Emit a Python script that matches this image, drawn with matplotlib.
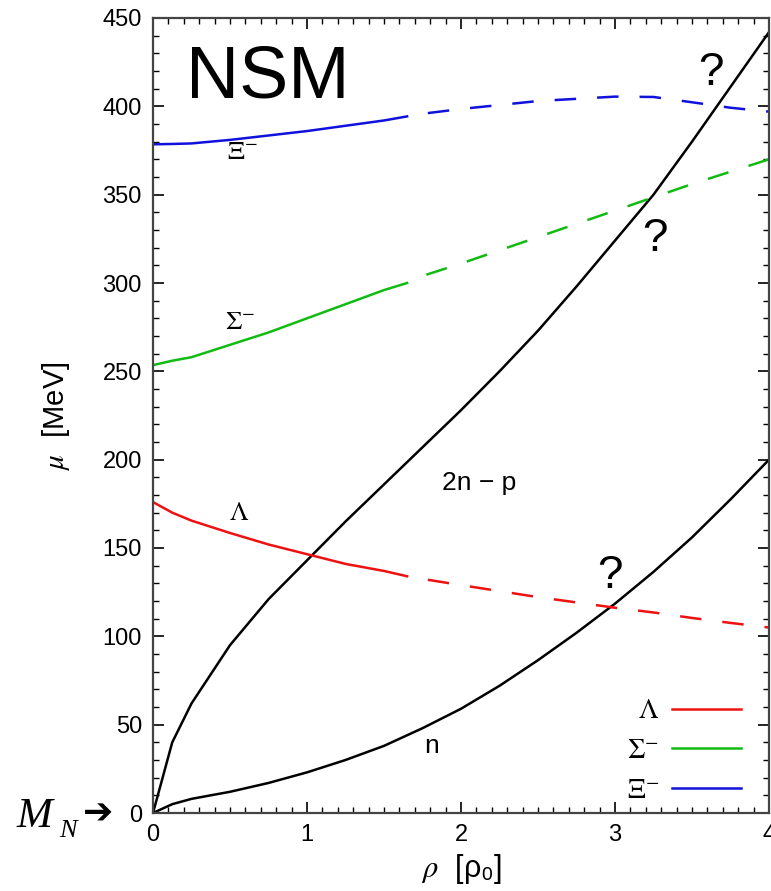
import matplotlib
matplotlib.use("Agg")
import matplotlib.pyplot as plt
import numpy as np

plt.rcParams['mathtext.fontset'] = 'stix'
plt.rcParams['font.family'] = ['Liberation Sans', 'DejaVu Sans']

# ---- data ----
rho_n = [0, 0.125, 0.25, 0.5, 0.75, 1.0, 1.25, 1.5, 1.75, 2.0, 2.25, 2.5, 2.75, 3.0, 3.25, 3.5, 3.75, 4.0]
mu_n = [0, 5, 8, 12, 17, 23, 30, 38, 48, 59, 72, 86.5, 102, 118.5, 136.5, 156, 177.5, 200]
mu_2np = [0, 40, 62, 95, 121, 143, 165, 186, 207, 228, 250, 273, 298, 324, 350, 380, 411, 442]

rho_h = [0, 0.125, 0.25, 0.5, 0.75, 1.0, 1.25, 1.5, 1.65, 1.75, 2.0, 2.5, 3.0, 3.25, 3.5, 3.75, 4.0]
mu_lam = [176, 170, 165.5, 158.5, 152, 146.5, 141, 137, 134, 132.5, 129, 122.2, 116.2, 113.5, 110.4, 107.6, 105]
mu_sig = [253.5, 256, 258, 265, 272, 280, 288, 296, 300, 304, 311, 326, 341, 348.5, 356, 363, 370]
mu_xi = [378.5, 378.7, 379, 381, 383.5, 386, 389, 392, 394.3, 395.8, 398.5, 403, 405.5, 405.3, 402.3, 399.2, 397]
rho_split = 1.65

hyperons = [("$\\Lambda$", mu_lam, "#ee1111"),
            ("$\\Sigma^{-}$", mu_sig, "#11bb11"),
            ("$\\Xi^{-}$", mu_xi, "#1111dd")]

fig = plt.figure(figsize=(7.71, 8.91), dpi=100)
ax = fig.add_axes([153/771, 1-813/891, (769-153)/771, (813-18)/891])

LW = 1.8
ax.plot(rho_n, mu_n, color='black', lw=LW)
ax.plot(rho_n, mu_2np, color='black', lw=LW)

rho_h = np.array(rho_h)
for lab, mu, col in hyperons:
    mu = np.array(mu)
    s = rho_h <= rho_split + 1e-9
    d = rho_h >= rho_split - 1e-9
    ax.plot(rho_h[s], mu[s], color=col, lw=LW, label=lab)
    ax.plot(rho_h[d], mu[d], color=col, lw=LW, linestyle=(8.6, (8.6, 8.4)))

ax.set_xlim(0, 4)
ax.set_ylim(0, 450)
ax.set_xticks([0, 1, 2, 3, 4])
ax.set_yticks(np.arange(0, 451, 50))
ax.set_xticks(np.arange(0, 4.01, 0.1), minor=True)
ax.set_yticks(np.arange(0, 451, 10), minor=True)
ax.tick_params(which='both', direction='in', top=True, right=True, labelsize=17, colors='black')
ax.tick_params(which='major', length=8, width=1.2, pad=8)
ax.tick_params(which='minor', length=4, width=1.0)
for sp in ax.spines.values():
    sp.set_linewidth(1.6)
    sp.set_color('#444444')

# axis labels
ax.set_xlabel("$\\rho$  [\u03c1\u2080]", fontsize=22, labelpad=4)
ax.set_ylabel("$\\mu$  [MeV]", fontsize=21, labelpad=22)

# in-plot annotations
ax.text(0.747, 416, "NSM", fontsize=53, ha='center', va='center')
for (x, y) in [(3.62, 419), (3.26, 325), (2.97, 134)]:
    ax.text(x, y, "?", fontsize=33, ha='center', va='center')
ax.text(0.56, 170, "$\\Lambda$", fontsize=19, ha='center', va='center')
ax.text(0.565, 278, "$\\Sigma^{-}$", fontsize=19, ha='center', va='center')
ax.text(0.58, 374, "$\\Xi^{-}$", fontsize=19, ha='center', va='center')
ax.text(2.12, 187, "2n \u2212 p", fontsize=19, ha='center', va='center')
ax.text(1.81, 38, "n", fontsize=19, ha='center', va='center')

# M_N arrow
fig.text(16/771, 1-827/891, "M", fontsize=31, ha='left', va='baseline',
         family='Liberation Serif', style='italic')
fig.text(59/771, 1-837/891, "N", fontsize=19, ha='left', va='baseline',
         family='Liberation Serif', style='italic')
fig.text(98/771, 1-814/891, "\u2794", fontsize=26, ha='center', va='center',
         family='DejaVu Sans', fontweight='bold')

leg = ax.legend(loc='lower right', bbox_to_anchor=((741-153)/616, (813-804)/795),
                frameon=False, markerfirst=False, fontsize=20, handlelength=2.5,
                labelspacing=0.5, handletextpad=0.45, borderpad=0, borderaxespad=0)

fig.savefig("out.png", dpi=100)
